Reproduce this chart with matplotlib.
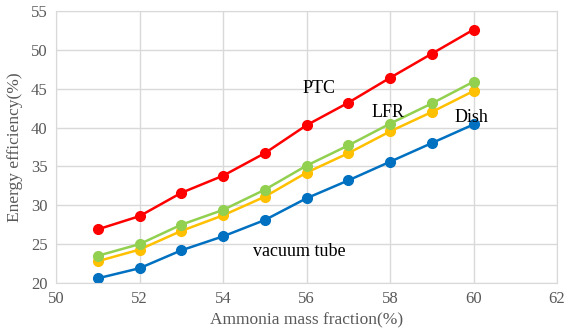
import numpy as np
import matplotlib
matplotlib.use('Agg')
import matplotlib.pyplot as plt

plt.rcParams['font.family'] = ['Liberation Serif', 'DejaVu Serif']

# ammonia mass fraction (%)
fraction = [51, 52, 53, 54, 55, 56, 57, 58, 59, 60]

# energy efficiency (%) per collector
ptc = [26.9, 28.6, 31.6, 33.8, 36.7, 40.3, 43.2, 46.4, 49.5, 52.6]
lfr = [23.5, 25.0, 27.5, 29.4, 32.0, 35.1, 37.7, 40.5, 43.1, 45.9]
dish = [22.8, 24.3, 26.7, 28.7, 31.1, 34.2, 36.7, 39.5, 42.0, 44.7]
vacuum = [20.6, 21.9, 24.2, 26.0, 28.1, 30.9, 33.2, 35.6, 38.0, 40.4]

series = [
    (vacuum, '#0070C0'),
    (dish, '#FFC000'),
    (lfr, '#92D050'),
    (ptc, '#FF0000'),
]

fig = plt.figure(figsize=(5.66, 3.35), dpi=100)
ax = fig.add_axes([56 / 566, 1 - 283 / 335, (557 - 56) / 566, (283 - 11) / 335])

for vals, col in series:
    ax.plot(fraction, vals, color=col, linewidth=1.8, marker='o', markersize=7)

ax.set_xlim(50, 62)
ax.set_ylim(20, 55)
ax.set_xticks(np.arange(50, 63, 2))
ax.set_yticks(np.arange(20, 56, 5))
ax.grid(True, color='#d9d9d9', linewidth=1)
ax.set_axisbelow(True)
for s in ax.spines.values():
    s.set_color('#d9d9d9')
ax.tick_params(length=0, labelsize=12, colors='#595959', pad=6)

ax.set_xlabel('Ammonia mass fraction(%)', fontsize=12.5, color='#595959', labelpad=4)
ax.set_ylabel('Energy efficiency(%)', fontsize=12.5, color='#595959', labelpad=6)

ax.text(56.3, 45.0, 'PTC', fontsize=13, ha='center', va='center')
ax.text(57.95, 41.9, 'LFR', fontsize=13, ha='center', va='center')
ax.text(59.96, 41.3, 'Dish', fontsize=13, ha='center', va='center')
ax.text(55.82, 24.1, 'vacuum tube', fontsize=13, ha='center', va='center')

fig.savefig('out.png', dpi=100)
